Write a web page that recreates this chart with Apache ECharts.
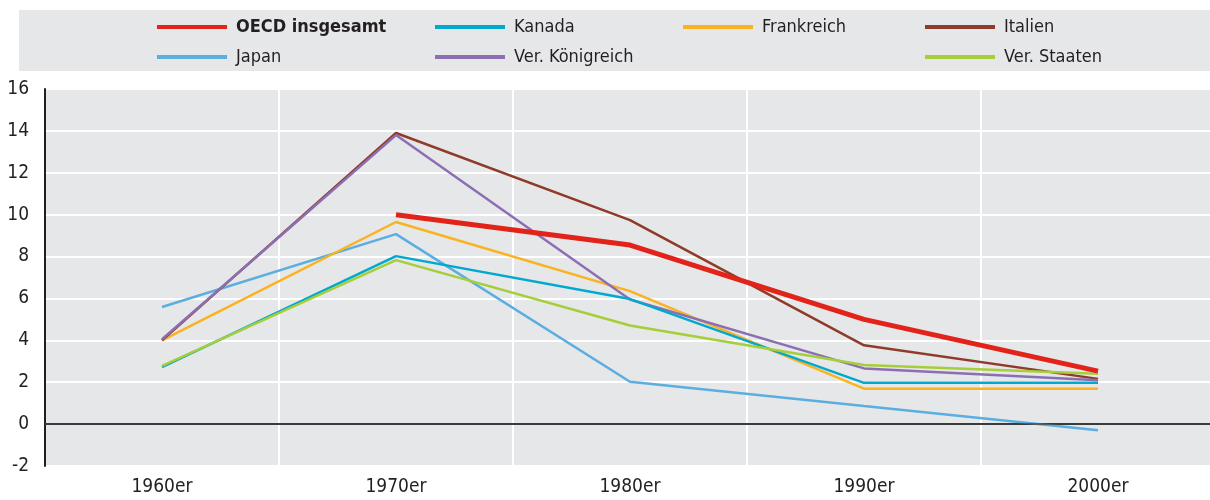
<!DOCTYPE html>
<html>
<head>
<meta charset='utf-8'>
<title>ECharts</title>
<script src='https://cdn.jsdelivr.net/npm/echarts@6/dist/echarts.min.js'></script>
<style>html,body{margin:0;background:#fff;overflow:hidden;}</style>
</head>
<body>
<div id='main' style='width:1215px;height:500px;'></div>
<script type='text/javascript'>
var decades = ['1960er', '1970er', '1980er', '1990er', '2000er'];
var oecd = [null, 10.0, 8.55, 5.0, 2.53];
var kanada = [2.72, 8.02, 5.97, 1.97, 1.97];
var frankreich = [4.0, 9.65, 6.35, 1.69, 1.69];
var italien = [4.0, 13.9, 9.74, 3.76, 2.16];
var japan = [5.59, 9.07, 2.02, 0.86, -0.29];
var vk = [4.05, 13.8, 5.95, 2.66, 2.09];
var usa = [2.78, 7.83, 4.71, 2.82, 2.40];

var font = "'Liberation Sans Narrow', 'DejaVu Sans Condensed', sans-serif";
var bg = '#e6e7e9';

function line(name, data, color, width, z) {
    return {
        name: name, type: 'line', data: data, z: z,
        symbol: 'none', connectNulls: false,
        lineStyle: { color: color, width: width },
        itemStyle: { color: color },
        emphasis: { disabled: true }
    };
}

function legend(left, names) {
    return {
        left: left, top: 13, orient: 'vertical',
        itemWidth: 70, itemHeight: 4, itemGap: 12,
        icon: 'rect', selectedMode: false,
        textStyle: { fontFamily: font, fontSize: 18, color: '#231f20', padding: [0, 0, 0, 4] },
        data: names
    };
}

var myChart = echarts.init(document.getElementById('main'));
var option = {
    animation: false,
    graphic: [{
        type: 'rect', left: 19, top: 10, z: -1,
        shape: { width: 1196, height: 61 },
        style: { fill: bg }
    }],
    legend: [
        legend(152, [{ name: 'OECD insgesamt', textStyle: { fontWeight: 'bold' } }, 'Japan']),
        legend(430, ['Kanada', 'Ver. Königreich']),
        legend(678, ['Frankreich']),
        legend(920, ['Italien', 'Ver. Staaten'])
    ],
    grid: {
        left: 45, top: 89, right: 0, bottom: 34,
        show: true, backgroundColor: bg, borderWidth: 0
    },
    xAxis: {
        type: 'category', data: decades, boundaryGap: true,
        axisLine: { lineStyle: { color: '#231f20', width: 2 } },
        axisTick: { inside: true, length: 8, lineStyle: { color: '#231f20', width: 1 } },
        axisLabel: { fontFamily: font, fontSize: 19, color: '#231f20', margin: 12 },
        splitLine: { show: true, lineStyle: { color: '#fff', width: 2 } }
    },
    yAxis: {
        type: 'value', min: -2, max: 16, interval: 2,
        axisLine: { show: true, lineStyle: { color: '#231f20', width: 2 } },
        axisTick: { show: false },
        axisLabel: { fontFamily: font, fontSize: 19, color: '#231f20', margin: 16 },
        splitLine: { lineStyle: { color: '#fff', width: 2 } }
    },
    series: [
        line('Japan', japan, '#5aaee0', 2.5, 2),
        line('Frankreich', frankreich, '#fbb21f', 2.5, 2),
        line('Italien', italien, '#8e3b2a', 2.5, 2),
        line('Ver. Königreich', vk, '#8c6fb3', 2.5, 2),
        line('Kanada', kanada, '#00a9ce', 2.5, 2),
        line('Ver. Staaten', usa, '#a6ce39', 2.5, 2),
        line('OECD insgesamt', oecd, '#e2231a', 5, 3)
    ]
};
option.series[0].markLine = {
    silent: true, symbol: 'none', label: { show: false },
    lineStyle: { color: '#444', width: 1.5, type: 'solid' },
    data: [{ yAxis: 0 }]
};
myChart.setOption(option);
</script>
</body>
</html>
